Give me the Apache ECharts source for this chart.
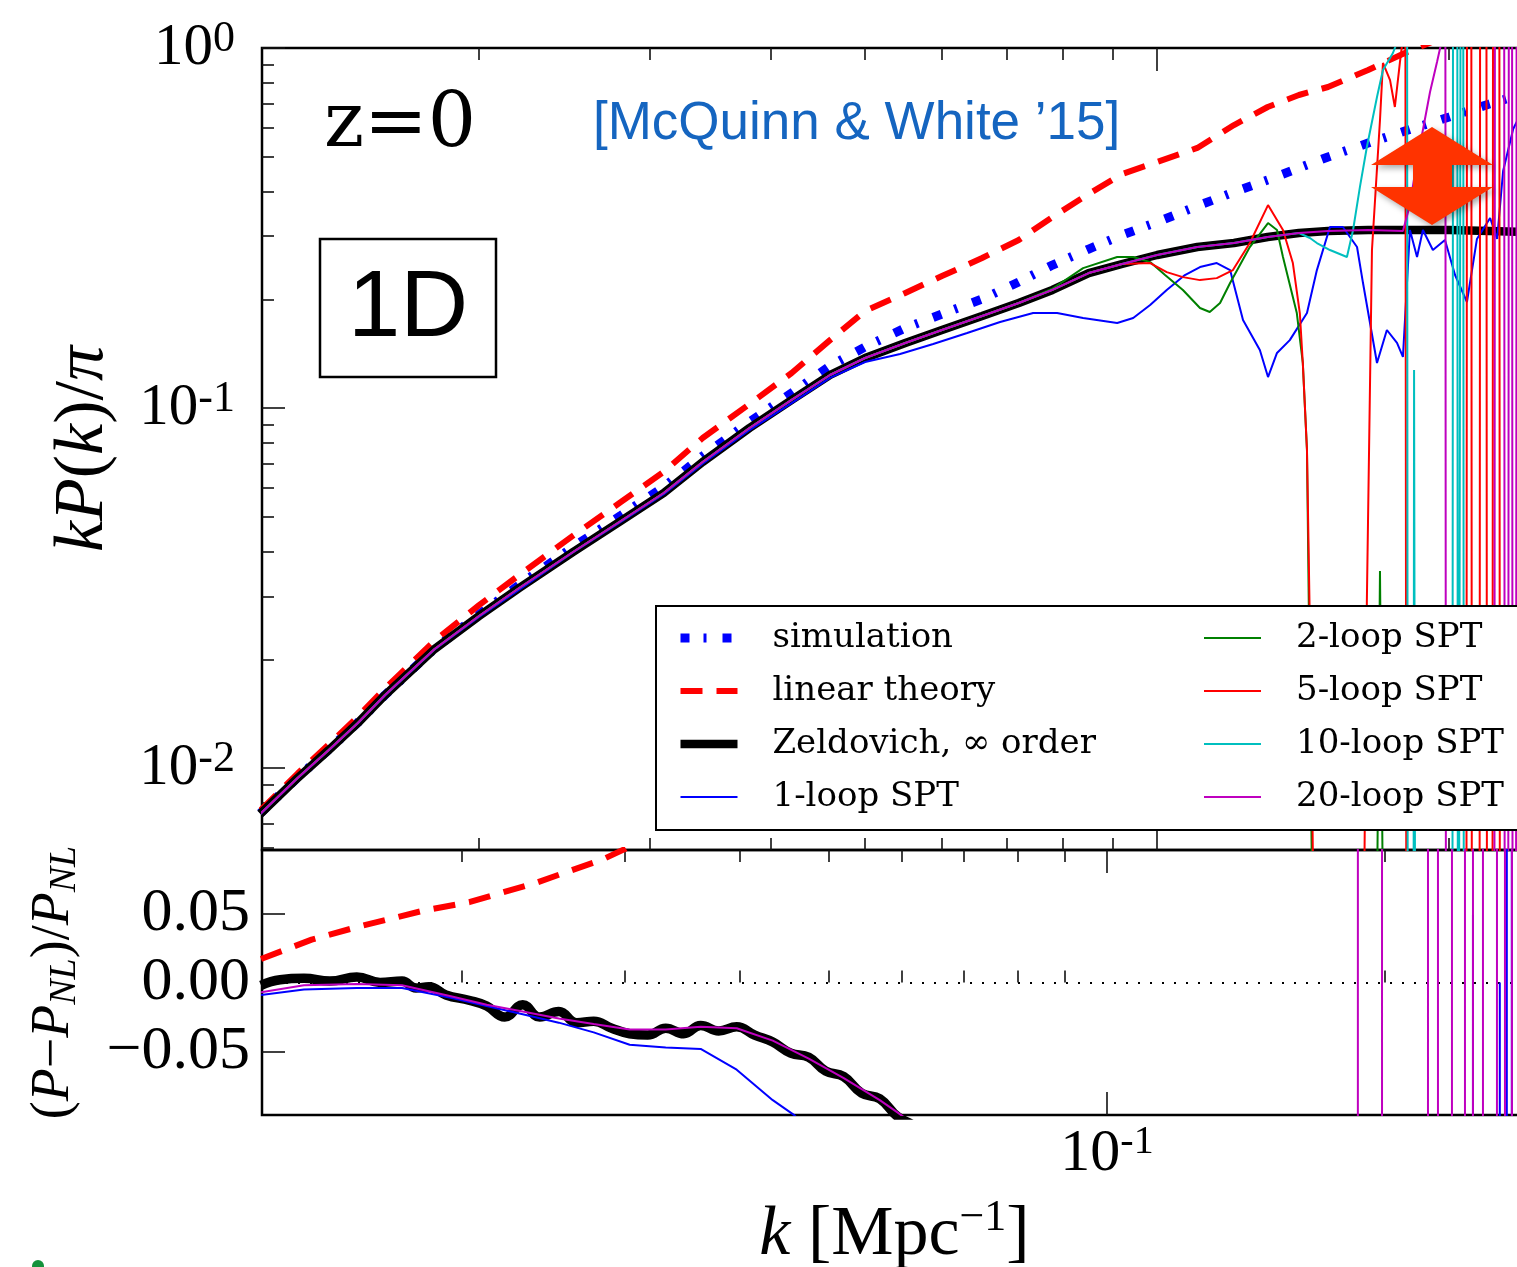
<!DOCTYPE html>
<html>
<head>
<meta charset="utf-8">
<title>kP(k)/π at z=0, 1D</title>
<script src="https://cdn.jsdelivr.net/npm/echarts@6/dist/echarts.min.js"></script>
<style>
  html, body { margin: 0; padding: 0; background: #ffffff; }
  #chart { width: 1517px; height: 1267px; }
</style>
</head>
<body>
<div id="chart"></div>
<script>
// ---------------------------------------------------------------
// Upper panel: kP(k)/pi versus k [1/Mpc]
// ---------------------------------------------------------------
const kGrid = [0.0119, 0.013, 0.014, 0.015, 0.016, 0.018, 0.02, 0.022, 0.025, 0.028, 0.031, 0.034,
  0.038, 0.042, 0.046, 0.05, 0.055, 0.06, 0.066, 0.072, 0.078, 0.085, 0.092, 0.1, 0.11, 0.12,
  0.13, 0.14, 0.15, 0.165, 0.18, 0.2, 0.22, 0.24];
const simulationP = [0.00749, 0.00941, 0.01125, 0.01338, 0.01595, 0.02147, 0.0267, 0.03225, 0.0411,
  0.05028, 0.06034, 0.07356, 0.09143, 0.1101, 0.1308, 0.1478, 0.1668, 0.1824, 0.2008, 0.2239,
  0.2495, 0.2764, 0.3023, 0.3284, 0.3639, 0.3981, 0.4299, 0.4642, 0.4981, 0.5445, 0.5878,
  0.6429, 0.6989, 0.7499];
const linearP = [0.00762, 0.009655, 0.01163, 0.01389, 0.01664, 0.02257, 0.02836, 0.03435, 0.0442,
  0.0548, 0.0665, 0.08254, 0.1026, 0.1251, 0.1544, 0.186, 0.2087, 0.2326, 0.261, 0.2929,
  0.3392, 0.393, 0.4467, 0.4825, 0.5277, 0.611, 0.6857, 0.7404, 0.7792, 0.8686, 0.9685,
  1.087, 1.181, 1.275];
const zeldovichP = [0.00746, 0.00938, 0.01122, 0.01334, 0.01595, 0.02141, 0.02644, 0.03162, 0.03981,
  0.04855, 0.05806, 0.0708, 0.08799, 0.1053, 0.1235, 0.1377, 0.1516, 0.1647, 0.1801, 0.1957,
  0.2128, 0.2371, 0.2512, 0.2661, 0.28, 0.2873, 0.2985, 0.3063, 0.3102, 0.3122, 0.3122,
  0.3122, 0.3102, 0.3083];

const loop1K = [0.0119, 0.013, 0.014, 0.015, 0.016, 0.018, 0.02, 0.022, 0.025, 0.028, 0.031, 0.034,
  0.038, 0.042, 0.046, 0.05, 0.05433, 0.05877, 0.0637, 0.06888, 0.0745, 0.07886, 0.08388, 0.09095,
  0.09447, 0.09835, 0.1023, 0.1068, 0.1107, 0.1152, 0.1189, 0.1226, 0.1276, 0.1301, 0.1329, 0.137,
  0.1427, 0.1461, 0.1507, 0.1554, 0.1607, 0.163, 0.1685, 0.1725, 0.1767, 0.1792, 0.1822, 0.1853,
  0.1879, 0.1924, 0.198, 0.2028, 0.2086, 0.2136, 0.2204, 0.2241, 0.2273, 0.2328, 0.2395];
const loop1P = [0.00744, 0.00936, 0.0112, 0.01331, 0.01591, 0.02134, 0.02627, 0.0313, 0.0397, 0.0483,
  0.0576, 0.07, 0.08686, 0.1032, 0.1212, 0.1342, 0.1413, 0.1506, 0.1616, 0.1734, 0.1836, 0.1836,
  0.1778, 0.1723, 0.1778, 0.1932, 0.2128, 0.2341, 0.2463, 0.2527, 0.2416, 0.1756, 0.1449, 0.1219,
  0.1422, 0.1544, 0.1836, 0.2416, 0.3182, 0.3182, 0.28, 0.2224, 0.1334, 0.1647, 0.1516, 0.1386,
  0.3122, 0.2627, 0.3122, 0.2747, 0.2929, 0.2341, 0.197, 0.2947, 0.3371, 0.2947, 0.4553, 0.5957,
  0.6945];

const loop2K = [0.0119, 0.013, 0.014, 0.015, 0.016, 0.018, 0.02, 0.022, 0.025, 0.028, 0.031, 0.034,
  0.038, 0.042, 0.046, 0.05, 0.055, 0.06, 0.066, 0.072, 0.0779, 0.08388, 0.09095, 0.09447, 0.09835,
  0.1019, 0.1063, 0.1107, 0.1133, 0.1161, 0.1189, 0.1246, 0.1301, 0.1329, 0.1348, 0.1393, 0.1413,
  0.1427, 0.1437, 0.1454, 0.1677, 0.1697, 0.1717, 0.24];
const loop2P = [0.00746, 0.00938, 0.01122, 0.01334, 0.01595, 0.02141, 0.02644, 0.03162, 0.03981,
  0.04855, 0.05806, 0.0708, 0.08799, 0.1053, 0.1235, 0.1377, 0.1516, 0.1647, 0.1801, 0.1957,
  0.2141, 0.2447, 0.2627, 0.2627, 0.2543, 0.2341, 0.2128, 0.1896, 0.1848, 0.1957, 0.2224, 0.28,
  0.3264, 0.3122, 0.2627, 0.1836, 0.1334, 0.07642, 0.01545, 0.001, 0.001, 0.03525, 0.001, 0.001];

const loop5K = [0.0119, 0.013, 0.014, 0.015, 0.016, 0.018, 0.02, 0.022, 0.025, 0.028, 0.031, 0.034,
  0.038, 0.042, 0.046, 0.05, 0.055, 0.06, 0.066, 0.072, 0.078, 0.085, 0.092, 0.09835, 0.1023,
  0.1063, 0.1107, 0.1152, 0.1197, 0.1246, 0.1301, 0.1348, 0.138, 0.1403, 0.1413, 0.1427, 0.1441,
  0.1458, 0.1626, 0.1645, 0.1665, 0.1697, 0.1709, 0.1738, 0.1758, 0.1779, 0.1796, 0.1801, 0.1809,
  0.2082, 0.2087, 0.2107, 0.2112, 0.2148, 0.2153, 0.2184, 0.2189, 0.2215, 0.222, 0.2252, 0.2257,
  0.24];
const loop5P = [0.00746, 0.00938, 0.01122, 0.01334, 0.01595, 0.02141, 0.02644, 0.03162, 0.03981,
  0.04855, 0.05806, 0.0708, 0.08799, 0.1053, 0.1235, 0.1377, 0.1516, 0.1647, 0.1801, 0.1957,
  0.2128, 0.2371, 0.2512, 0.2527, 0.2385, 0.231, 0.2266, 0.2295, 0.2416, 0.2873, 0.3662, 0.3122,
  0.2527, 0.1836, 0.1334, 0.07642, 0.01545, 0.001, 0.001, 0.02929, 0.2747, 0.631, 0.9086, 0.8146,
  0.6857, 0.9086, 1.122, 10, 0.0001, 0.0001, 10, 10, 0.0001, 0.0001, 10, 10, 0.0001, 0.0001, 10,
  10, 0.0001, 0.0001];

const loop10K = [0.0119, 0.013, 0.014, 0.015, 0.016, 0.018, 0.02, 0.022, 0.025, 0.028, 0.031, 0.034,
  0.038, 0.042, 0.046, 0.05, 0.055, 0.06, 0.066, 0.072, 0.078, 0.085, 0.092, 0.1, 0.11, 0.12, 0.13,
  0.14, 0.1437, 0.1461, 0.1507, 0.1569, 0.1592, 0.1618, 0.1645, 0.1685, 0.1709, 0.175, 0.1779,
  0.1809, 0.1814, 0.1836, 0.184, 0.1849, 0.2014, 0.2019, 0.2038, 0.2043, 0.2052, 0.2057, 0.2067,
  0.2072, 0.24];
const loop10P = [0.00746, 0.00938, 0.01122, 0.01334, 0.01595, 0.02141, 0.02644, 0.03162, 0.03981,
  0.04855, 0.05806, 0.0708, 0.08799, 0.1053, 0.1235, 0.1377, 0.1516, 0.1647, 0.1801, 0.1957,
  0.2128, 0.2371, 0.2512, 0.2661, 0.28, 0.2873, 0.2985, 0.3063, 0.2966, 0.2873, 0.2747, 0.2627,
  0.3122, 0.4109, 0.5309, 0.731, 0.8686, 0.9685, 1.087, 10, 0.0001, 0.0001, 0.1275, 0.0001,
  0.0001, 10, 10, 0.0001, 0.0001, 10, 10, 0.0001, 0.0001];

const loop20K = [0.0119, 0.013, 0.014, 0.015, 0.016, 0.018, 0.02, 0.022, 0.025, 0.028, 0.031, 0.034,
  0.038, 0.042, 0.046, 0.05, 0.055, 0.06, 0.066, 0.072, 0.078, 0.085, 0.092, 0.1, 0.11, 0.12,
  0.13, 0.14, 0.15, 0.165, 0.1792, 0.1822, 0.1853, 0.1879, 0.1911, 0.1943, 0.1971, 0.1981, 0.1986,
  0.2225, 0.223, 0.2278, 0.2283, 0.2299, 0.2305, 0.2321, 0.2326, 0.2342, 0.2348, 0.24];
const loop20P = [0.00746, 0.00938, 0.01122, 0.01334, 0.01595, 0.02141, 0.02644, 0.03162, 0.03981,
  0.04855, 0.05806, 0.0708, 0.08799, 0.1053, 0.1235, 0.1377, 0.1516, 0.1647, 0.1801, 0.1957,
  0.2128, 0.2371, 0.2512, 0.2661, 0.28, 0.2873, 0.2985, 0.3063, 0.3102, 0.3122, 0.3102, 0.3662,
  0.4887, 0.5919, 0.7547, 0.9144, 1.087, 10, 0.0001, 0.0001, 10, 10, 0.0001, 0.0001, 10, 10,
  0.0001, 0.0001, 10, 10];

// ---------------------------------------------------------------
// Lower panel: (P - P_NL) / P_NL
// ---------------------------------------------------------------
const linearRatioK = [0.01212, 0.01375, 0.01539, 0.0182, 0.02037, 0.02406, 0.02844, 0.03006, 0.035];
const linearRatio = [0.017, 0.031, 0.04, 0.052, 0.058, 0.072, 0.089, 0.0965, 0.125];

const zeldovichRatioK = [0.01212, 0.01271, 0.01349, 0.01439, 0.01539, 0.01631, 0.01723, 0.01784,
  0.01843, 0.01922, 0.0204, 0.02128, 0.02226, 0.02328, 0.02429, 0.02547, 0.02664, 0.02779, 0.02907,
  0.0304, 0.0318, 0.03326, 0.03479, 0.03629, 0.03796, 0.0397, 0.04153, 0.04344, 0.04543, 0.04752,
  0.04958, 0.05186, 0.05424, 0.05673, 0.05934, 0.06191, 0.06428];
const zeldovichRatio = [-0.002, 0.002, 0.003, 0.001, 0.004, 0.0, 0.001, -0.004, -0.003, -0.009,
  -0.013, -0.017, -0.025, -0.016, -0.025, -0.021, -0.029, -0.028, -0.033, -0.037, -0.038, -0.033,
  -0.037, -0.031, -0.035, -0.032, -0.038, -0.043, -0.051, -0.054, -0.064, -0.068, -0.08, -0.084,
  -0.097, -0.104, -0.115];

const loop1RatioK = [0.01212, 0.01349, 0.01539, 0.01723, 0.01946, 0.02128, 0.02328, 0.02547, 0.02779,
  0.0304, 0.03326, 0.03629, 0.0397, 0.04344, 0.04587, 0.05, 0.07, 0.15, 0.249, 0.24915, 0.2493,
  0.2661, 0.2664, 0.2667, 0.271, 0.2712, 0.2744, 0.2746, 0.2851];
const loop1Ratio = [-0.009, -0.005, -0.004, -0.004, -0.011, -0.017, -0.023, -0.029, -0.036, -0.045,
  -0.047, -0.048, -0.063, -0.085, -0.096, -0.125, -0.3, -0.5, -2, 0.049, -2, -2, 0.0, -2, -2, 2,
  2, -2, -2];

const loop20RatioK = [0.01212, 0.01349, 0.01539, 0.01723, 0.01946, 0.02128, 0.02328, 0.02547,
  0.02779, 0.0304, 0.03326, 0.03629, 0.0397, 0.04344, 0.04752, 0.05186, 0.05673, 0.05934, 0.06191,
  0.07, 0.1, 0.15, 0.1869, 0.18704, 0.1985, 0.19866, 0.22262, 0.22278, 0.22824, 0.2284, 0.23635,
  0.23651, 0.24415, 0.24431, 0.24907, 0.24923, 0.25536, 0.25552, 0.26444, 0.2646, 0.26977,
  0.26993, 0.27452, 0.27468, 0.2851];
const loop20Ratio = [-0.007, -0.002, -0.001, -0.002, -0.01, -0.016, -0.021, -0.026, -0.03, -0.034,
  -0.034, -0.032, -0.033, -0.042, -0.055, -0.069, -0.085, -0.094, -0.103, -0.2, -0.4, -0.6, -2, 2,
  2, -2, -2, 2, 2, -2, -2, 2, 2, -2, -2, 2, 2, -2, -2, 2, 2, -2, -2, 2, 2];

// ---------------------------------------------------------------
// Ticks and labels
// ---------------------------------------------------------------
const kMinorTicks = [0.02, 0.03, 0.04, 0.05, 0.06, 0.07, 0.08, 0.09, 0.2];
const kMajorTicks = [0.1];
const pMinorTicks = [0.006, 0.007, 0.008, 0.009, 0.02, 0.03, 0.04, 0.05, 0.06, 0.07, 0.08, 0.09,
  0.2, 0.3, 0.4, 0.5, 0.6, 0.7, 0.8, 0.9];
const pMajorTicks = [0.01, 0.1, 1];
const ratioTicks = [-0.05, 0, 0.05];

const legendNames = ['simulation', 'linear theory', 'Zeldovich, \u221e order', '1-loop SPT',
  '2-loop SPT', '5-loop SPT', '10-loop SPT', '20-loop SPT'];

// axis extents
const K_TOP = [0.011948, 0.24056];
const K_BOTTOM = [0.012149, 0.2851];
const P_RANGE = [0.00592, 1];
const RATIO_RANGE = [-0.0957, 0.0957];

// ---------------------------------------------------------------
const SERIF = 'Liberation Serif';
const tickLine = { color: '#111111', width: 1.6 };

function powLabel(v) {
  const e = Math.round(Math.log10(v));
  return '{b|10}{s|' + e + '}';
}

function tickAxis(type, grid, position, range, ticks, length, extra) {
  return Object.assign({
    type: type,
    logBase: 10,
    gridIndex: grid,
    position: position,
    min: range[0],
    max: range[1],
    axisLine: { show: false },
    axisTick: { show: true, inside: true, length: length, customValues: ticks, lineStyle: tickLine },
    axisLabel: { show: false },
    splitLine: { show: false },
    minorTick: { show: false },
    minorSplitLine: { show: false }
  }, extra || {});
}

const xAxes = [
  tickAxis('log', 0, 'bottom', K_TOP, kMinorTicks, 12),
  tickAxis('log', 0, 'bottom', K_TOP, kMajorTicks, 23),
  tickAxis('log', 0, 'top', K_TOP, kMinorTicks, 12),
  tickAxis('log', 0, 'top', K_TOP, kMajorTicks, 23),
  tickAxis('log', 1, 'bottom', K_BOTTOM, kMinorTicks, 12, {
    name: '{i|k}{n| [Mpc}{s|\u22121}{n|]}',
    nameLocation: 'middle',
    nameGap: 81,
    nameTextStyle: {
      rich: {
        i: { fontFamily: SERIF, fontStyle: 'italic', fontSize: 70, lineHeight: 80, color: '#000' },
        n: { fontFamily: SERIF, fontSize: 70, lineHeight: 80, color: '#000' },
        s: { fontFamily: SERIF, fontSize: 44, lineHeight: 52, verticalAlign: 'top', color: '#000' }
      }
    }
  }),
  tickAxis('log', 1, 'bottom', K_BOTTOM, kMajorTicks, 23, {
    axisLabel: {
      show: true,
      customValues: kMajorTicks,
      margin: 7,
      formatter: powLabel,
      rich: {
        b: { fontFamily: SERIF, fontSize: 60, lineHeight: 64, color: '#000' },
        s: { fontFamily: SERIF, fontSize: 40, lineHeight: 36, verticalAlign: 'top', color: '#000' }
      }
    }
  }),
  tickAxis('log', 1, 'top', K_BOTTOM, kMinorTicks, 12),
  tickAxis('log', 1, 'top', K_BOTTOM, kMajorTicks, 23)
];

const yAxes = [
  tickAxis('log', 0, 'left', P_RANGE, pMinorTicks, 12, {
    name: '{i|kP}{n|(}{i|k}{n|)/}{i|\u03c0}',
    nameLocation: 'middle',
    nameRotate: 90,
    nameGap: 141,
    nameTextStyle: {
      rich: {
        i: { fontFamily: SERIF, fontStyle: 'italic', fontSize: 70, lineHeight: 74, color: '#000' },
        n: { fontFamily: SERIF, fontSize: 70, lineHeight: 74, color: '#000' }
      }
    }
  }),
  tickAxis('log', 0, 'left', P_RANGE, pMajorTicks, 23, {
    axisLabel: {
      show: true,
      customValues: pMajorTicks,
      margin: 27,
      showMinLabel: true,
      showMaxLabel: true,
      formatter: powLabel,
      rich: {
        b: { fontFamily: SERIF, fontSize: 59, lineHeight: 62, color: '#000' },
        s: { fontFamily: SERIF, fontSize: 44, lineHeight: 18, verticalAlign: 'top', color: '#000' }
      }
    }
  }),
  tickAxis('value', 1, 'left', RATIO_RANGE, ratioTicks, 23, {
    axisLabel: {
      show: true,
      customValues: ratioTicks,
      margin: 12,
      showMinLabel: true,
      showMaxLabel: true,
      fontFamily: SERIF,
      fontSize: 62,
      color: '#000',
      formatter: function (v) { return (v < 0 ? '\u2212' : '') + Math.abs(v).toFixed(2); }
    },
    name: '{n|(}{i|P}{n|\u2212}{i|P}{s|NL}{n|)/}{i|P}{s|NL}',
    nameLocation: 'middle',
    nameRotate: 90,
    nameGap: 178,
    nameTextStyle: {
      rich: {
        i: { fontFamily: SERIF, fontStyle: 'italic', fontSize: 54, lineHeight: 60, color: '#000' },
        n: { fontFamily: SERIF, fontSize: 54, lineHeight: 60, color: '#000' },
        s: { fontFamily: SERIF, fontStyle: 'italic', fontSize: 38, lineHeight: 36, verticalAlign: 'bottom', color: '#000' }
      }
    }
  })
];

const styles = {
  simulation: { color: '#0000ff', width: 9, type: [9, 14, 3, 16] },
  linear: { color: '#ff0000', width: 6, type: [22, 14] },
  zeldovich: { color: '#000000', width: 8.5, type: 'solid' },
  zeldovichRatio: { color: '#000000', width: 9.5, type: 'solid' },
  loop1: { color: '#0000ff', width: 2, type: 'solid' },
  loop2: { color: '#008000', width: 2, type: 'solid' },
  loop5: { color: '#ff0000', width: 2, type: 'solid' },
  loop10: { color: '#00bfbf', width: 2, type: 'solid' },
  loop20: { color: '#bf00bf', width: 2, type: 'solid' }
};

function curve(name, ks, vs, lower, style, extra) {
  return Object.assign({
    name: name,
    type: 'line',
    xAxisIndex: lower ? 4 : 0,
    yAxisIndex: lower ? 2 : 0,
    data: ks.map(function (k, i) { return [k, vs[i]]; }),
    symbol: 'none',
    showSymbol: false,
    clip: true,
    silent: true,
    lineStyle: style,
    itemStyle: { color: style.color },
    z: 2
  }, extra || {});
}

const series = [
  curve(legendNames[0], kGrid, simulationP, false, styles.simulation),
  curve(legendNames[1], kGrid, linearP, false, styles.linear),
  curve(legendNames[2], kGrid, zeldovichP, false, styles.zeldovich),
  curve(legendNames[3], loop1K, loop1P, false, styles.loop1),
  curve(legendNames[4], loop2K, loop2P, false, styles.loop2),
  curve(legendNames[5], loop5K, loop5P, false, styles.loop5),
  curve(legendNames[6], loop10K, loop10P, false, styles.loop10),
  curve(legendNames[7], loop20K, loop20P, false, styles.loop20),

  curve(legendNames[1], linearRatioK, linearRatio, true, styles.linear),
  curve(legendNames[2], zeldovichRatioK, zeldovichRatio, true, styles.zeldovichRatio, {
    smooth: 0.45,
    markLine: {
      silent: true,
      z: 1,
      symbol: ['none', 'none'],
      label: { show: false },
      lineStyle: { color: '#000', width: 2, type: [2, 10] },
      data: [{ yAxis: 0 }]
    }
  }),
  curve(legendNames[3], loop1RatioK, loop1Ratio, true, styles.loop1),
  curve(legendNames[7], loop20RatioK, loop20Ratio, true, styles.loop20)
];

const gridFrame = {
  show: true,
  borderColor: '#000',
  borderWidth: 2.5,
  backgroundColor: 'rgba(0,0,0,0)',
  containLabel: false,
  outerBoundsMode: 'none'
};

const option = {
  animation: false,
  backgroundColor: '#ffffff',
  grid: [
    Object.assign({ left: 262, top: 48, width: 1265, height: 802 }, gridFrame),
    Object.assign({ left: 262, top: 850, width: 1265, height: 265 }, gridFrame)
  ],
  xAxis: xAxes,
  yAxis: yAxes,
  legend: {
    data: legendNames,
    orient: 'vertical',
    left: 656,
    top: 606,
    height: 200,
    padding: [12, 10, 13, 20],
    itemGap: 13,
    itemWidth: 57,
    itemHeight: 14,
    backgroundColor: '#ffffff',
    borderColor: '#000',
    borderWidth: 2,
    borderRadius: 0,
    selectedMode: false,
    // the key shows only the stroke of each curve, at its own width and dash
    lineStyle: { width: 'inherit', type: 'inherit', cap: 'butt' },
    itemStyle: { opacity: 0, borderWidth: 0 },
    textStyle: {
      fontFamily: 'DejaVu Serif',
      fontSize: 34,
      color: '#000',
      lineHeight: 40,
      width: 414,
      padding: [0, 0, 0, 30]
    },
    z: 4
  },
  series: series,
  graphic: [
    {
      type: 'text', x: 324, y: 126, z: 50,
      style: { text: 'z=0', fill: '#000', fontFamily: 'DejaVu Serif', fontSize: 76,
        align: 'left', verticalAlign: 'middle', textAlign: 'left', textVerticalAlign: 'middle' }
    },
    {
      type: 'text', x: 593, y: 124, z: 50,
      style: { text: '[McQuinn & White \u201915]', fill: '#1565c0', fontFamily: 'Liberation Sans', fontSize: 53,
        align: 'left', verticalAlign: 'middle', textAlign: 'left', textVerticalAlign: 'middle' }
    },
    {
      type: 'rect', z: 50,
      shape: { x: 320, y: 239, width: 176, height: 138 },
      style: { fill: 'transparent', stroke: '#000', lineWidth: 2.5 }
    },
    {
      type: 'text', x: 408, y: 310, z: 50,
      style: { text: '1D', fill: '#000', fontFamily: 'Liberation Sans', fontSize: 94,
        align: 'center', verticalAlign: 'middle', textAlign: 'center', textVerticalAlign: 'middle' }
    },
    {
      type: 'polygon', z: 60,
      shape: { points: [[1432, 127], [1493, 165], [1452, 165], [1452, 187], [1493, 187], [1432, 225],
        [1371, 187], [1413, 187], [1413, 165], [1371, 165]] },
      style: { fill: '#ff3300', shadowBlur: 6, shadowColor: 'rgba(0,0,0,0.35)', shadowOffsetX: 3, shadowOffsetY: 3 }
    },
    {
      type: 'circle', z: 50,
      shape: { cx: 38, cy: 1266, r: 6 },
      style: { fill: '#14923c' }
    }
  ]
};

const chart = echarts.init(document.getElementById('chart'), null, { renderer: 'canvas' });
chart.setOption(option);
</script>
</body>
</html>
